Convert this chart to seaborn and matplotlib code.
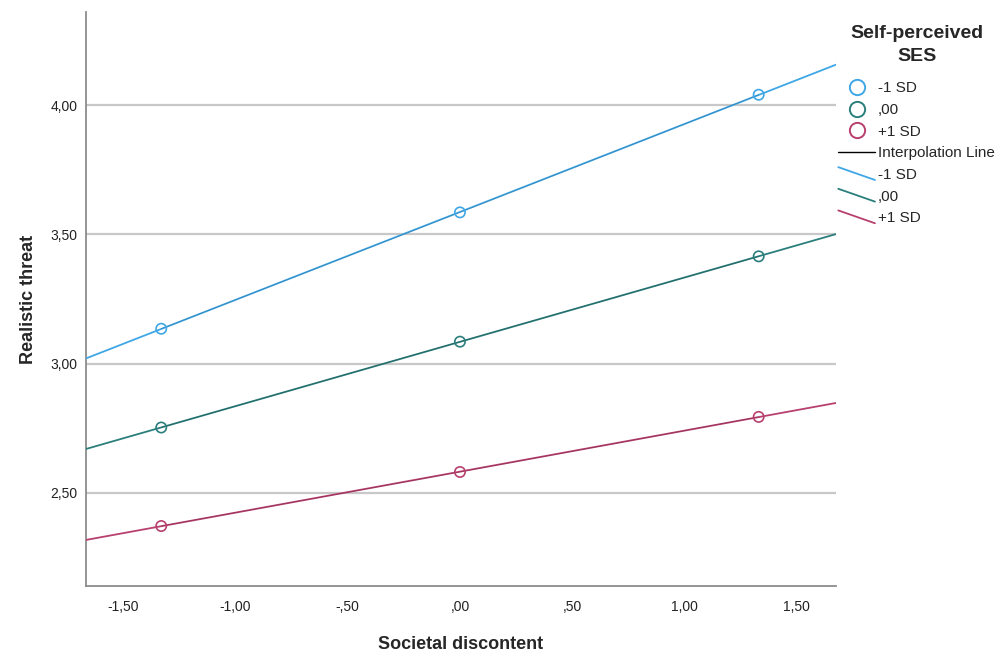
import matplotlib
matplotlib.use("Agg")
import numpy as np
import pandas as pd
import seaborn as sns
import matplotlib.pyplot as plt
from matplotlib.lines import Line2D
from matplotlib.legend_handler import HandlerLine2D
from matplotlib.ticker import FuncFormatter

# data
groups = ["-1 SD", ",00", "+1 SD"]
colors = ["#3fa7e6", "#2a7f7c", "#b8406f"]
discontent = [-1.33, 0.00, 1.33]
threat_low = [3.135, 3.585, 4.040]
threat_mid = [2.753, 3.085, 3.415]
threat_high = [2.372, 2.581, 2.794]

y_ticks = [2.50, 3.00, 3.50, 4.00]
x_ticks = [-1.50, -1.00, -0.50, 0.00, 0.50, 1.00, 1.50]
xlim = (-1.665, 1.674)
ylim = (2.14, 4.36)

df = pd.DataFrame({
    "x": discontent * 3,
    "y": threat_low + threat_mid + threat_high,
    "group": np.repeat(groups, 3),
})

sns.set_style("white")
plt.rcParams["font.family"] = ["Liberation Sans", "DejaVu Sans"]


def spss_fmt(v, pos=None):
    s = f"{v:.2f}".replace(".", ",")
    s = s.replace("-0,", "-,")
    if s.startswith("0,"):
        s = s[1:]
    return s


class DiagonalHandler(HandlerLine2D):
    def create_artists(self, legend, orig_handle, xdescent, ydescent,
                       width, height, fontsize, trans):
        ln = Line2D([-xdescent, width - xdescent], [height * 1.1 - ydescent, -ydescent - height * 0.1],
                    color=orig_handle.get_color(), lw=orig_handle.get_linewidth())
        ln.set_transform(trans)
        return [ln]


fig = plt.figure(figsize=(10.08, 6.52), dpi=100)
ax = fig.add_axes([0.0853, 0.1012, 0.744, 0.8804])

pal = dict(zip(groups, colors))

# fitted lines over the whole x range
xs = np.array(xlim)
for g in groups:
    sub = df[df.group == g]
    b, a = np.polyfit(sub.x, sub.y, 1)
    ax.plot(xs, a + b * xs, color=pal[g], lw=1.3, zorder=3)

# interpolation lines through the points
sns.lineplot(data=df, x="x", y="y", units="group", estimator=None,
             color="black", lw=0.6, alpha=0.18, ax=ax, zorder=4, legend=False)

# open circle markers
for g in groups:
    sub = df[df.group == g]
    sns.scatterplot(data=sub, x="x", y="y", marker="o", s=55,
                    facecolors="none", edgecolor=pal[g], linewidth=1.2,
                    ax=ax, zorder=5, legend=False)

ax.set_xlim(xlim)
ax.set_ylim(ylim)
ax.set_xticks(x_ticks)
ax.set_yticks(y_ticks)
ax.xaxis.set_major_formatter(FuncFormatter(spss_fmt))
ax.yaxis.set_major_formatter(FuncFormatter(spss_fmt))
ax.tick_params(axis="both", labelsize=10, colors="#222222", length=0, pad=10)
ax.tick_params(axis="y", pad=6)

ax.yaxis.grid(True, color="#c8c8c8", lw=1.6, zorder=0)
ax.set_axisbelow(True)
for side in ["top", "right"]:
    ax.spines[side].set_visible(False)
for side in ["left", "bottom"]:
    ax.spines[side].set_color("#8c8c8c")
    ax.spines[side].set_linewidth(1.3)

ax.set_xlabel("Societal discontent", fontsize=13, fontweight="bold", labelpad=16)
ax.set_ylabel("Realistic threat", fontsize=13, fontweight="bold", labelpad=10)

handles = [Line2D([], [], marker="o", ls="none", markersize=11, markerfacecolor="none",
                  markeredgecolor=c, markeredgewidth=1.4) for c in colors]
handles.append(Line2D([], [], color="black", lw=1.0))
diag = [Line2D([], [], color=c, lw=1.3) for c in colors]
handles += diag
labels = groups + ["Interpolation Line"] + groups

hmap = {h: DiagonalHandler() for h in diag}
leg = fig.legend(handles, labels, loc="upper left", bbox_to_anchor=(0.818, 0.982),
                 frameon=False, fontsize=11, title="Self-perceived\nSES",
                 title_fontproperties={"weight": "bold", "size": 14},
                 handlelength=2.4, handletextpad=0.2, labelspacing=0.5,
                 handler_map=hmap)
leg._legend_box.align = "center"
leg._legend_box.sep = 12
leg.get_title().set_multialignment("center")
leg.get_title().set_linespacing(1.4)

fig.savefig("out.png", dpi=100)
